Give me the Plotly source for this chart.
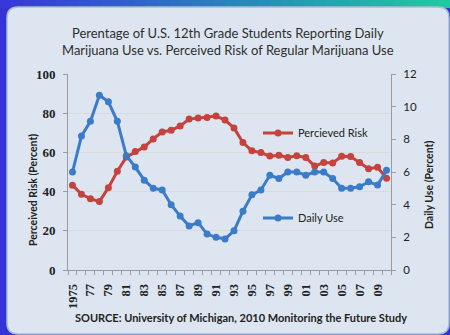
import plotly.graph_objects as go

# Monitoring the Future, 12th graders
years = list(range(1975, 2011))
perceived_risk = [43.3, 38.6, 36.4, 34.9, 42.0, 50.4, 57.6, 60.4, 62.8, 66.9,
                  70.4, 71.3, 73.5, 77.0, 77.5, 77.8, 78.6, 76.5, 72.5, 65.0,
                  60.8, 59.9, 58.1, 58.5, 57.4, 58.3, 57.4, 53.0, 54.9, 54.6,
                  58.0, 57.9, 54.8, 51.7, 52.4, 46.8]
daily_use = [6.0, 8.2, 9.1, 10.7, 10.3, 9.1, 7.0, 6.3, 5.5, 5.0,
             4.9, 4.0, 3.3, 2.7, 2.9, 2.2, 2.0, 1.9, 2.4, 3.6,
             4.6, 4.9, 5.8, 5.6, 6.0, 6.0, 5.8, 6.0, 6.0, 5.6,
             5.0, 5.0, 5.1, 5.4, 5.2, 6.1]
label_years = list(range(1975, 2010, 2))
label_text = ["1975"] + [f"{y % 100:02d}" for y in label_years[1:]]

title_lines = ["Perentage of U.S. 12th Grade Students Reporting Daily",
               "Marijuana Use vs. Perceived Risk of Regular Marijuana Use"]
source_text = "SOURCE: University of Michigan, 2010 Monitoring the Future Study"

W, H = 450, 335
L, R, T, B = 68, 391, 74, 270          # plot area in pixels
PW, PH = R - L, B - T


def px(x):
    return (x - L) / PW


def py(y):
    return (B - y) / PH


RED = "#c6423d"
BLUE = "#3b7bc8"
SANS = "Lato, 'Open Sans', sans-serif"
SERIF = "'Liberation Serif', 'DejaVu Serif', serif"

fig = go.Figure()
fig.add_trace(go.Scatter(
    x=years, y=perceived_risk, name="Percieved Risk", mode="lines+markers",
    line=dict(color=RED, width=3), marker=dict(size=7, color=RED),
    yaxis="y", legend="legend"))
fig.add_trace(go.Scatter(
    x=years, y=daily_use, name="Daily Use", mode="lines+markers",
    line=dict(color=BLUE, width=3), marker=dict(size=7, color=BLUE),
    yaxis="y2", legend="legend2"))

shapes = []
# top gradient strip
c0, c1 = (56, 56, 216), (30, 202, 160)
n = 40
for i in range(n):
    t = i / (n - 1)
    col = "rgb({},{},{})".format(*[round(a + (b - a) * t) for a, b in zip(c0, c1)])
    shapes.append(dict(type="rect", xref="paper", yref="paper",
                       x0=px(i * W / n), x1=px((i + 1) * W / n + 1),
                       y0=py(0), y1=py(8), fillcolor=col, line_width=0,
                       layer="below"))
# rounded light panel
x0, x1, y0, y1, r = 7, 449, 7, 334, 11
path = (f"M {px(x0 + r)},{py(y0)} L {px(x1 - r)},{py(y0)} "
        f"Q {px(x1)},{py(y0)} {px(x1)},{py(y0 + r)} L {px(x1)},{py(y1 - r)} "
        f"Q {px(x1)},{py(y1)} {px(x1 - r)},{py(y1)} L {px(x0 + r)},{py(y1)} "
        f"Q {px(x0)},{py(y1)} {px(x0)},{py(y1 - r)} L {px(x0)},{py(y0 + r)} "
        f"Q {px(x0)},{py(y0)} {px(x0 + r)},{py(y0)} Z")
shapes.append(dict(type="path", xref="paper", yref="paper", path=path,
                   fillcolor="#dde6f0", line=dict(color="#a9bdd3", width=1.5),
                   layer="below"))

annotations = [
    dict(text="<br>".join(title_lines), x=px(228), y=py(41), xref="paper",
         yref="paper", showarrow=False, xanchor="center", yanchor="middle",
         font=dict(family=SANS, size=13, color="#2e2e2e")),
    dict(text="<b>Perceived Risk (Percent)</b>", x=px(25), y=py(190),
         xref="paper", yref="paper", showarrow=False, textangle=-90,
         font=dict(family=SANS, size=10.5, color="#222222")),
    dict(text="<b>Daily Use (Percent)</b>", x=px(437), y=py(185),
         xref="paper", yref="paper", showarrow=False, textangle=-90,
         font=dict(family=SANS, size=10.5, color="#222222")),
    dict(text="<b>" + source_text + "</b>", x=px(241), y=py(326),
         xref="paper", yref="paper", showarrow=False,
         font=dict(family=SANS, size=11, color="#222222")),
]

axis_common = dict(showline=True, linecolor="#9a9a9a", linewidth=1,
                   ticks="outside", ticklen=4, tickcolor="#9a9a9a",
                   zeroline=False)

fig.update_layout(
    width=W, height=H,
    margin=dict(l=L, r=W - R, t=T, b=H - B, pad=0),
    paper_bgcolor="#3434d6", plot_bgcolor="white",
    shapes=shapes, annotations=annotations,
    xaxis=dict(range=[1974.5, 2010.5], tickvals=label_years, ticktext=label_text,
               tickangle=-90, showgrid=False, showline=True, linecolor="#9a9a9a",
               ticks="", zeroline=False, ticklabelstandoff=8,
               minor=dict(ticks="outside", tick0=1974.5, dtick=1, ticklen=4,
                          tickcolor="#9a9a9a", showgrid=False),
               tickfont=dict(family=SERIF, size=12.5, color="#222222", weight="bold")),
    yaxis=dict(range=[0, 100], dtick=20, showgrid=True, gridcolor="#dadada",
               tickfont=dict(family=SERIF, size=13, color="#222222", weight="bold"),
               ticklabelstandoff=5, **axis_common),
    yaxis2=dict(range=[0, 12], dtick=2, overlaying="y", side="right",
                showgrid=False,
                tickfont=dict(family=SANS, size=11.5, color="#222222"),
                ticklabelstandoff=5, **axis_common),
    legend=dict(x=px(258), y=py(133), xanchor="left", yanchor="middle",
                bgcolor="rgba(0,0,0,0)", font=dict(family=SANS, size=11, color="#222222"),
                itemwidth=30),
    legend2=dict(x=px(258), y=py(218), xanchor="left", yanchor="middle",
                 bgcolor="rgba(0,0,0,0)", font=dict(family=SANS, size=11, color="#222222"),
                 itemwidth=30),
    showlegend=True,
)

fig.write_html("out.html")
